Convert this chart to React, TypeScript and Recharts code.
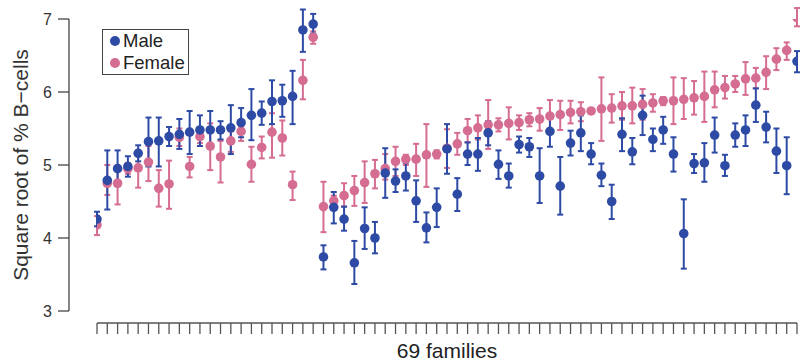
import React from 'react';
import { ComposedChart, Scatter, XAxis, YAxis, ErrorBar, Legend } from 'recharts';

const FONT = '"Liberation Sans", Arial, Helvetica, sans-serif';
const BLUE = '#2D4BA5';
const PINK = '#D56C92';

const familyIds = Array.from({ length: 69 }, (_, i) => i + 1);
const yTicks = [3, 4, 5, 6, 7];

const maleMean = [
  4.26, 4.79, 4.95, 4.98, 5.16, 5.32, 5.33, 5.39, 5.42, 5.45, 5.48, 5.48, 5.48, 5.51, 5.58, 5.68, 5.71, 5.87, 5.88, 5.94, 6.85, 6.93,
  3.74, 4.42, 4.26, 3.66, 4.13, 4.0, 4.89, 4.78, 4.85, 4.51, 4.14, 4.42, 5.22, 4.6, 5.15, 5.15, 5.44, 5.01, 4.85, 5.28, 5.25, 4.85,
  5.46, 4.71, 5.3, 5.44, 5.15, 4.86, 4.5, 5.42, 5.18, 5.68, 5.35, 5.48, 5.15, 4.06, 5.02, 5.03, 5.41, 4.99, 5.41, 5.48, 5.82, 5.52,
  5.19, 4.99, 6.42,
];
const maleLow = [
  4.16, 4.39, 4.71, 4.84, 5.05, 4.98, 4.98, 5.26, 5.22, 5.15, 5.26, 5.22, 5.35, 5.15, 5.38, 5.34, 5.55, 5.56, 5.66, 5.56, 6.55, 6.8,
  3.57, 4.2, 4.1, 3.37, 3.85, 3.79, 4.55, 4.63, 4.65, 4.22, 3.94, 4.15, 4.88, 4.37, 5.0, 4.92, 5.27, 4.81, 4.69, 5.17, 5.11, 4.48,
  5.25, 4.32, 5.13, 5.19, 5.01, 4.71, 4.26, 5.19, 5.01, 5.41, 5.19, 5.29, 4.91, 3.58, 4.89, 4.77, 5.17, 4.85, 5.25, 5.26, 5.59, 5.31,
  4.89, 4.6, 6.27,
];
const maleHigh = [
  4.36, 5.2, 5.2, 5.12, 5.27, 5.65, 5.65, 5.52, 5.63, 5.74, 5.68, 5.74, 5.6, 5.82, 5.78, 6.04, 5.87, 6.16, 6.1, 6.29, 7.13, 7.07,
  3.9, 4.63, 4.43, 3.96, 4.42, 4.22, 5.23, 4.94, 5.03, 4.79, 4.35, 4.68, 5.56, 4.82, 5.31, 5.37, 5.6, 5.2, 5.02, 5.39, 5.37, 5.23,
  5.66, 5.11, 5.47, 5.68, 5.3, 5.02, 4.73, 5.64, 5.37, 5.95, 5.5, 5.66, 5.38, 4.53, 5.15, 5.3, 5.65, 5.14, 5.57, 5.68, 6.05, 5.73,
  5.5, 5.38, 6.56,
];

const femaleMean = [
  4.18, 4.75, 4.75, 4.95, 4.96, 5.04, 4.68, 4.74, 5.38, 4.98, 5.39, 5.26, 5.11, 5.33, 5.46, 5.01, 5.24, 5.45, 5.37, 4.73, 6.16, 6.75,
  4.43, 4.51, 4.58, 4.65, 4.76, 4.88, 4.95, 5.05, 5.08, 5.08, 5.14, 5.15, 5.23, 5.29, 5.47, 5.51, 5.55, 5.55, 5.57, 5.58, 5.62, 5.63,
  5.67, 5.69, 5.72, 5.73, 5.74, 5.77, 5.78, 5.81, 5.81, 5.83, 5.85, 5.88, 5.88, 5.9, 5.92, 5.94, 6.03, 6.06, 6.11, 6.18, 6.19, 6.27,
  6.45, 6.57, 7.02,
];
const femaleLow = [
  4.04, 4.59, 4.46, 4.88, 4.69, 4.78, 4.43, 4.4, 5.26, 4.83, 5.3, 4.93, 4.76, 5.18, 5.33, 4.77, 5.09, 5.1, 5.13, 4.52, 5.9, 6.66,
  4.08, 4.45, 4.43, 4.44, 4.48, 4.68, 4.8, 4.85, 5.0, 4.85, 4.7, 5.09, 4.96, 5.14, 5.31, 5.35, 5.22, 5.46, 5.35, 5.48, 5.53, 5.47,
  5.46, 5.48, 5.57, 5.6, 5.72, 5.33, 5.58, 5.62, 5.57, 5.62, 5.73, 5.82, 5.56, 5.63, 5.69, 5.59, 5.79, 5.91, 6.0, 5.96, 6.05, 6.04,
  6.3, 6.44, 6.9,
];
const femaleHigh = [
  4.3, 5.0, 4.99, 5.03, 5.2, 5.26, 4.93, 5.06, 5.5, 5.11, 5.48, 5.57, 5.33, 5.46, 5.53, 5.25, 5.39, 5.71, 5.61, 4.91, 6.44, 6.83,
  4.77, 4.58, 4.75, 4.85, 5.05, 5.07, 5.15, 5.25, 5.14, 5.29, 5.56, 5.2, 5.49, 5.44, 5.63, 5.68, 5.89, 5.64, 5.79, 5.68, 5.71, 5.78,
  5.89, 5.88, 5.88, 5.86, 5.76, 6.2, 5.97, 6.0, 6.06, 6.04, 5.97, 5.93, 6.2, 6.19, 6.15, 6.28, 6.28, 6.22, 6.22, 6.41, 6.33, 6.49,
  6.6, 6.68, 7.15,
];

const series = [
  { name: 'Male', color: BLUE },
  { name: 'Female', color: PINK },
];

const build = (mean: number[], low: number[], high: number[]) =>
  familyIds.map((id, i) => ({
    family: id,
    value: mean[i],
    err: [+(mean[i] - low[i]).toFixed(3), +(high[i] - mean[i]).toFixed(3)],
  }));

const maleData = build(maleMean, maleLow, maleHigh);
const femaleData = build(femaleMean, femaleLow, femaleHigh);

const dot = (color: string) => (p: any) => <circle cx={p.cx} cy={p.cy} r={4.8} fill={color} />;

const LegendBox = () => (
  <div
    style={{
      border: '1.3px solid #444',
      width: 87,
      height: 46,
      boxSizing: 'border-box',
      fontFamily: FONT,
      fontSize: 18.5,
      color: '#222',
      background: '#fff',
    }}
  >
    {series.map((s) => (
      <div key={s.name} style={{ display: 'flex', alignItems: 'center', height: 22, lineHeight: '22px', paddingLeft: 7 }}>
        <span style={{ width: 10, height: 10, borderRadius: 5, background: s.color, display: 'inline-block', marginRight: 3 }} />
        <span>{s.name}</span>
      </div>
    ))}
  </div>
);

export default function App() {
  return (
    <div style={{ position: 'absolute', left: 0, top: 0, width: 800, height: 362, background: '#fff' }}>
      <ComposedChart width={800} height={362} margin={{ top: 19, right: 3, bottom: 0, left: 0 }}>
        <XAxis xAxisId="gap" type="number" domain={[1, 69]} height={12} axisLine={false} tickLine={false} tick={false} />
        <XAxis
          xAxisId="main"
          dataKey="family"
          type="number"
          domain={[1, 69]}
          allowDataOverflow
          ticks={familyIds}
          interval={0}
          height={39}
          tickSize={11}
          tick={() => <g />}
          axisLine={{ stroke: '#555', strokeWidth: 1.3 }}
          tickLine={{ stroke: '#555', strokeWidth: 1.3 }}
          label={(props: any) => {
            const vb = props.viewBox || {};
            return (
              <text x={vb.x + vb.width / 2} y={vb.y + 35} textAnchor="middle" fontFamily={FONT} fontSize={21} fill="#222">
                69 families
              </text>
            );
          }}
        />
        <YAxis yAxisId="gap" type="number" domain={[3, 7]} allowDataOverflow width={28} axisLine={false} tickLine={false} tick={false} />
        <YAxis
          yAxisId="main"
          dataKey="value"
          type="number"
          domain={[3, 7]}
          allowDataOverflow
          ticks={yTicks}
          width={69}
          tickSize={11}
          tickMargin={6}
          axisLine={{ stroke: '#444', strokeWidth: 1.3 }}
          tickLine={{ stroke: '#444', strokeWidth: 1.3 }}
          tick={{ fontFamily: FONT, fontSize: 16, fill: '#333' }}
          label={(props: any) => {
            const vb = props.viewBox || {};
            const cx = vb.x + 20;
            const cy = vb.y + vb.height / 2;
            return (
              <text
                x={cx}
                y={cy}
                transform={`rotate(-90 ${cx} ${cy})`}
                textAnchor="middle"
                dominantBaseline="central"
                fontFamily={FONT}
                fontSize={21}
                fill="#333"
              >
                Square root of % B−cells
              </text>
            );
          }}
        />
        <Scatter
          name="Female"
          data={femaleData}
          xAxisId="main"
          yAxisId="main"
          dataKey="value"
          fill={PINK}
          shape={dot(PINK)}
          isAnimationActive={false}
        >
          <ErrorBar dataKey="err" direction="y" width={3} stroke={PINK} strokeWidth={2} isAnimationActive={false} />
        </Scatter>
        <Scatter
          name="Male"
          data={maleData}
          xAxisId="main"
          yAxisId="main"
          dataKey="value"
          fill={BLUE}
          shape={dot(BLUE)}
          isAnimationActive={false}
        >
          <ErrorBar dataKey="err" direction="y" width={3} stroke={BLUE} strokeWidth={2} isAnimationActive={false} />
        </Scatter>
        <Legend
          layout="vertical"
          align="center"
          verticalAlign="middle"
          wrapperStyle={{ left: 102, top: 29, width: 'auto' }}
          content={() => <LegendBox />}
        />
      </ComposedChart>
    </div>
  );
}
